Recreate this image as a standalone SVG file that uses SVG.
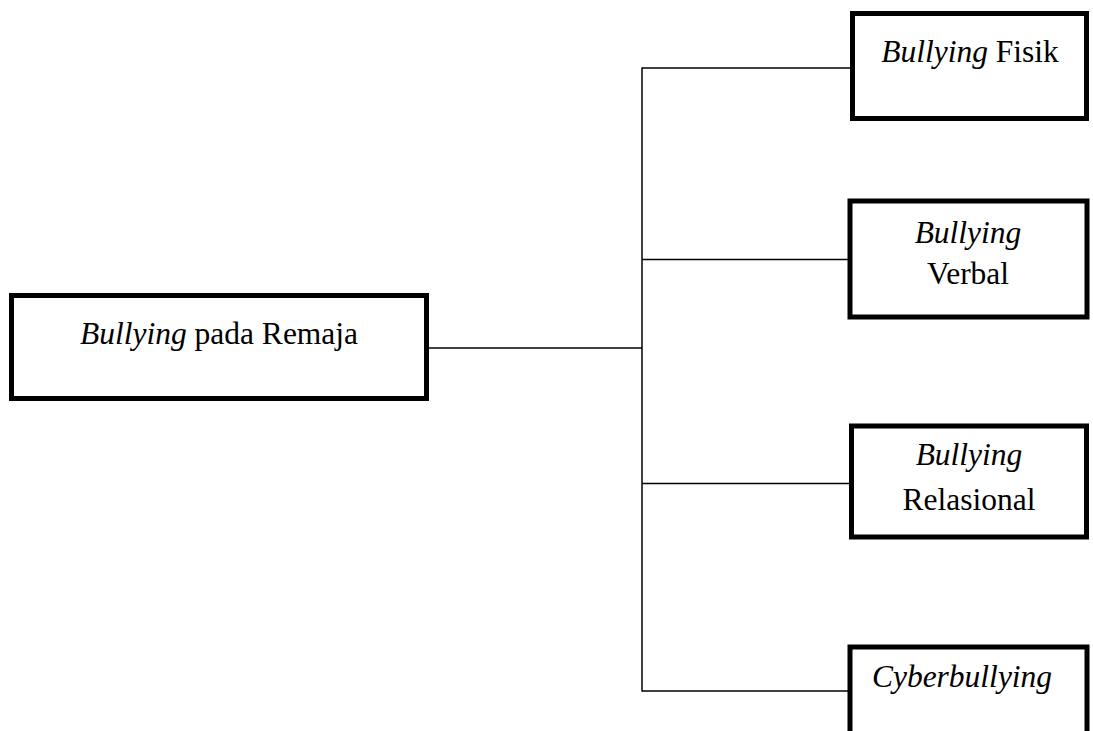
<svg xmlns="http://www.w3.org/2000/svg" width="1093" height="731" viewBox="0 0 1093 731">
<style>
.box{fill:#fff;stroke:#000;stroke-width:5}
.ln{fill:none;stroke:#000;stroke-width:1.5}
text{font-family:"Liberation Serif","Times New Roman",serif;font-size:31.5px;fill:#000;text-anchor:middle}
.i{font-style:italic}
</style>
<rect width="1093" height="731" fill="#fff"/>
<g id="connectors">
<line class="ln" x1="429" y1="348" x2="642" y2="348"/>
<line class="ln" x1="642" y1="67.5" x2="642" y2="691.5"/>
<line class="ln" x1="642" y1="68" x2="851" y2="68"/>
<line class="ln" x1="642" y1="259.5" x2="848" y2="259.5"/>
<line class="ln" x1="642" y1="483.5" x2="849" y2="483.5"/>
<line class="ln" x1="642" y1="691" x2="848" y2="691"/>
</g>
<g id="root">
<rect class="box" x="11.5" y="295.5" width="415" height="103"/>
<text x="219" y="344"><tspan class="i">Bullying</tspan> pada Remaja</text>
</g>
<g id="fisik">
<rect class="box" x="852.5" y="13.5" width="234" height="105"/>
<text x="970" y="62"><tspan class="i">Bullying</tspan> Fisik</text>
</g>
<g id="verbal">
<rect class="box" x="850" y="201" width="237" height="116"/>
<text x="968" y="243" class="i">Bullying</text>
<text x="968" y="284">Verbal</text>
</g>
<g id="relasional">
<rect class="box" x="851.5" y="426" width="235" height="111"/>
<text x="969" y="465" class="i">Bullying</text>
<text x="969" y="510">Relasional</text>
</g>
<g id="cyber">
<rect class="box" x="850" y="647" width="237" height="100"/>
<text x="962" y="687" class="i">Cyberbullying</text>
</g>
</svg>
